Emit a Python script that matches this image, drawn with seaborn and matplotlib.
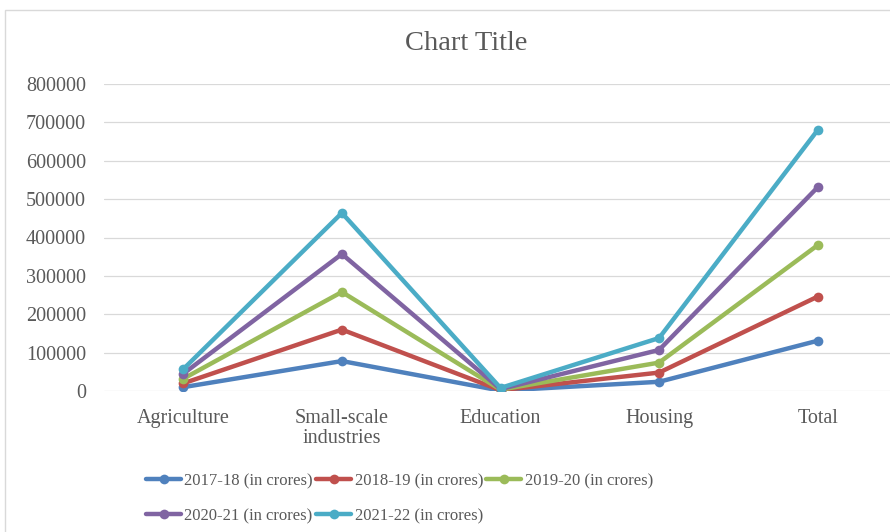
import numpy as np
import pandas as pd
import matplotlib
matplotlib.use("Agg")
import matplotlib.pyplot as plt
import seaborn as sns
from matplotlib.patches import Rectangle
from matplotlib.lines import Line2D

categories = ["Agriculture", "Small-scale\nindustries", "Education", "Housing", "Total"]
series_names = ["2017-18 (in crores)", "2018-19 (in crores)", "2019-20 (in crores)",
                "2020-21 (in crores)", "2021-22 (in crores)"]
# values per year (chart is a stacked line chart)
v2017 = [10000, 78000, 1000, 24000, 131000]
v2018 = [10000, 82000, 1000, 24000, 115000]
v2019 = [12000, 98000, 1500, 26000, 134000]
v2020 = [13000, 99000, 1500, 33000, 151000]
v2021 = [12000, 107000, 3000, 31000, 149000]
colors = ["#4F81BD", "#C0504D", "#9BBB59", "#8064A2", "#4BACC6"]
yticks = [0, 100000, 200000, 300000, 400000, 500000, 600000, 700000, 800000]

sns.set_theme(style="white")
plt.rcParams["font.family"] = ["Liberation Serif", "DejaVu Serif"]

stack = np.cumsum(np.array([v2017, v2018, v2019, v2020, v2021]), axis=0)
rows = []
for name, vals in zip(series_names, stack):
    for c, v in zip(categories, vals):
        rows.append({"cat": c, "val": v, "series": name})
df = pd.DataFrame(rows)

fig = plt.figure(figsize=(8.9, 5.32), dpi=100)
ax = fig.add_axes([104 / 890, 1 - 391 / 532, 793 / 890, (391 - 84) / 532])

sns.lineplot(data=df, x="cat", y="val", hue="series", palette=colors, ax=ax,
             marker="o", markersize=7, markeredgewidth=0, linewidth=3.2,
             sort=False, legend=False)

ax.set_xlim(-0.5, 4.5)
ax.set_ylim(0, 800000)
ax.set_yticks(yticks)
ax.set_yticklabels([str(t) for t in yticks])
ax.set_xlabel("")
ax.set_ylabel("")
for s in ax.spines.values():
    s.set_visible(False)
ax.grid(axis="y", color="#D9D9D9", linewidth=0.9)
ax.set_axisbelow(True)
ax.tick_params(axis="y", labelsize=14.5, labelcolor="#595959", pad=13, length=0)
ax.tick_params(axis="x", labelsize=14.5, labelcolor="#595959", pad=13, length=0)
for lbl in ax.get_xticklabels():
    lbl.set_linespacing(1.05)

fig.text(466 / 890, 1 - 44 / 532, "Chart Title", ha="center", va="center",
         fontsize=20.5, color="#595959")

handles = [Line2D([], [], color=c, linewidth=3.2, marker="o", markersize=7,
                  markeredgewidth=0) for c in colors]
order = [0, 3, 1, 4, 2]
leg = fig.legend([handles[i] for i in order], [series_names[i] for i in order],
                 loc="upper left", bbox_to_anchor=(146 / 890, 1 - 473 / 532), ncol=3,
                 frameon=False, fontsize=12, handlelength=2.1, handletextpad=0.2,
                 columnspacing=0.2, labelspacing=1.15, borderaxespad=0, borderpad=0)
for t in leg.get_texts():
    t.set_color("#595959")

fig.patches.append(Rectangle((5 / 890, -0.1), 1.2, 1 - 10 / 532 + 0.1,
                             transform=fig.transFigure, fill=False,
                             edgecolor="#D9D9D9", linewidth=1))

fig.savefig("out.png", dpi=100, facecolor="white")
